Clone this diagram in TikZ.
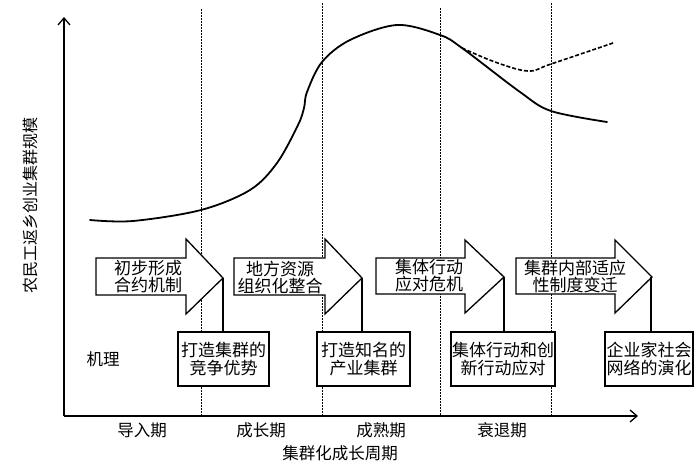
\documentclass[tikz,border=0pt]{standalone}
\usepackage{fontspec}
\setmainfont{Noto Sans CJK SC}
\usetikzlibrary{arrows.meta}
\begin{document}
\begin{tikzpicture}[x=1pt,y=-1pt,
  axisline/.style={line width=1.3pt,-{Straight Barb[length=7pt,width=12pt,line width=1.3pt]}},
  phase/.style={line width=0.8pt,dash pattern=on 2pt off 1pt},
  curveline/.style={line width=1.8pt,line join=round,line cap=round},
  arrowshape/.style={draw,line width=1.3pt,fill=white,line join=miter},
  arrowtext/.style={align=center,font=\fontsize{17}{17}\selectfont,inner sep=0pt},
  mechbox/.style={draw,line width=1.3pt,fill=white,align=center,minimum height=54pt,inner sep=0pt,font=\fontsize{17}{18.5}\selectfont},
  stem/.style={line width=1.1pt},
  label/.style={font=\fontsize{16.5}{16.5}\selectfont,inner sep=0pt}
]
\useasboundingbox (0,0) rectangle (700,462);
% axes
\coordinate (O) at (64,416);
\coordinate (X) at (638,416);
\coordinate (Y) at (64,17);
% phase separators
\foreach \x/\t in {201/9,322/3,440/8,551/3}{
  \draw[phase] (\x,\t) -- (\x,415);
}
\draw[axisline] (O) -- (Y);
\draw[axisline] (O) -- (X);
% curves
\draw[curveline] plot[smooth,tension=0.55] coordinates {(90,220) (133,221) (201,210) (250,190) (277,163) (298,125) (304,108) (307,92) (322,62) (350,40) (397,25) (440,35) (462,48) (520,92) (551,111) (607,122)};
\draw[curveline,line width=1.6pt,dash pattern=on 4pt off 2pt,line cap=butt] plot[smooth,tension=0.6] coordinates {(462,48) (495,62) (528,71) (551,64) (613,43)};
% arrows
\draw[arrowshape] (96,258) -- (186,258) -- (186,239) -- (223,278) -- (186,314) -- (186,295) -- (96,295) -- cycle;
\coordinate (t1) at (223,278);
\node[arrowtext] (a1) at (148,277) {初步形成\\合约机制};
\draw[arrowshape] (234,258) -- (325,258) -- (325,239) -- (362,278) -- (325,314) -- (325,295) -- (234,295) -- cycle;
\coordinate (t2) at (362,278);
\node[arrowtext] (a2) at (280,277) {地方资源\\组织化整合};
\draw[arrowshape] (376,258) -- (465,258) -- (465,240) -- (504,277) -- (465,313) -- (465,294) -- (376,294) -- cycle;
\coordinate (t3) at (504,277);
\node[arrowtext] (a3) at (429,276) {集体行动\\应对危机};
\draw[arrowshape] (516,258) -- (615,258) -- (615,240) -- (652,277) -- (615,313) -- (615,294) -- (516,294) -- cycle;
\coordinate (t4) at (651,277);
\node[arrowtext] (a4) at (575,276) {集群内部适应\\性制度变迁};
% mechanism boxes
\node[mechbox,minimum width=91pt] (b1) at (223.5,359) {打造集群的\\竞争优势};
\node[mechbox,minimum width=93pt] (b2) at (363.5,359) {打造知名的\\产业集群};
\node[mechbox,minimum width=104pt] (b3) at (503,359) {集体行动和创\\新行动应对};
\node[mechbox,minimum width=88pt] (b4) at (649,359) {企业家社会\\网络的演化};
\draw[stem] (t1) -- (t1 |- b1.north);
\draw[stem] (t2) -- (t2 |- b2.north);
\draw[stem] (t3) -- (t3 |- b3.north);
\draw[stem] (t4) -- (t4 |- b4.north);
% labels
\node[label] (jl) at (103,359) {机理};
\node[label] (p1) at (142,430) {导入期};
\node[label] (p2) at (261,430) {成长期};
\node[label] (p3) at (381,430) {成熟期};
\node[label] (p4) at (502,430) {衰退期};
\node[label] (xl) at (340,453) {集群化成长周期};
\node[label,font=\fontsize{16}{16}\selectfont,rotate=90] (yl) at (30,205) {农民工返乡创业集群规模};
\end{tikzpicture}
\end{document}
